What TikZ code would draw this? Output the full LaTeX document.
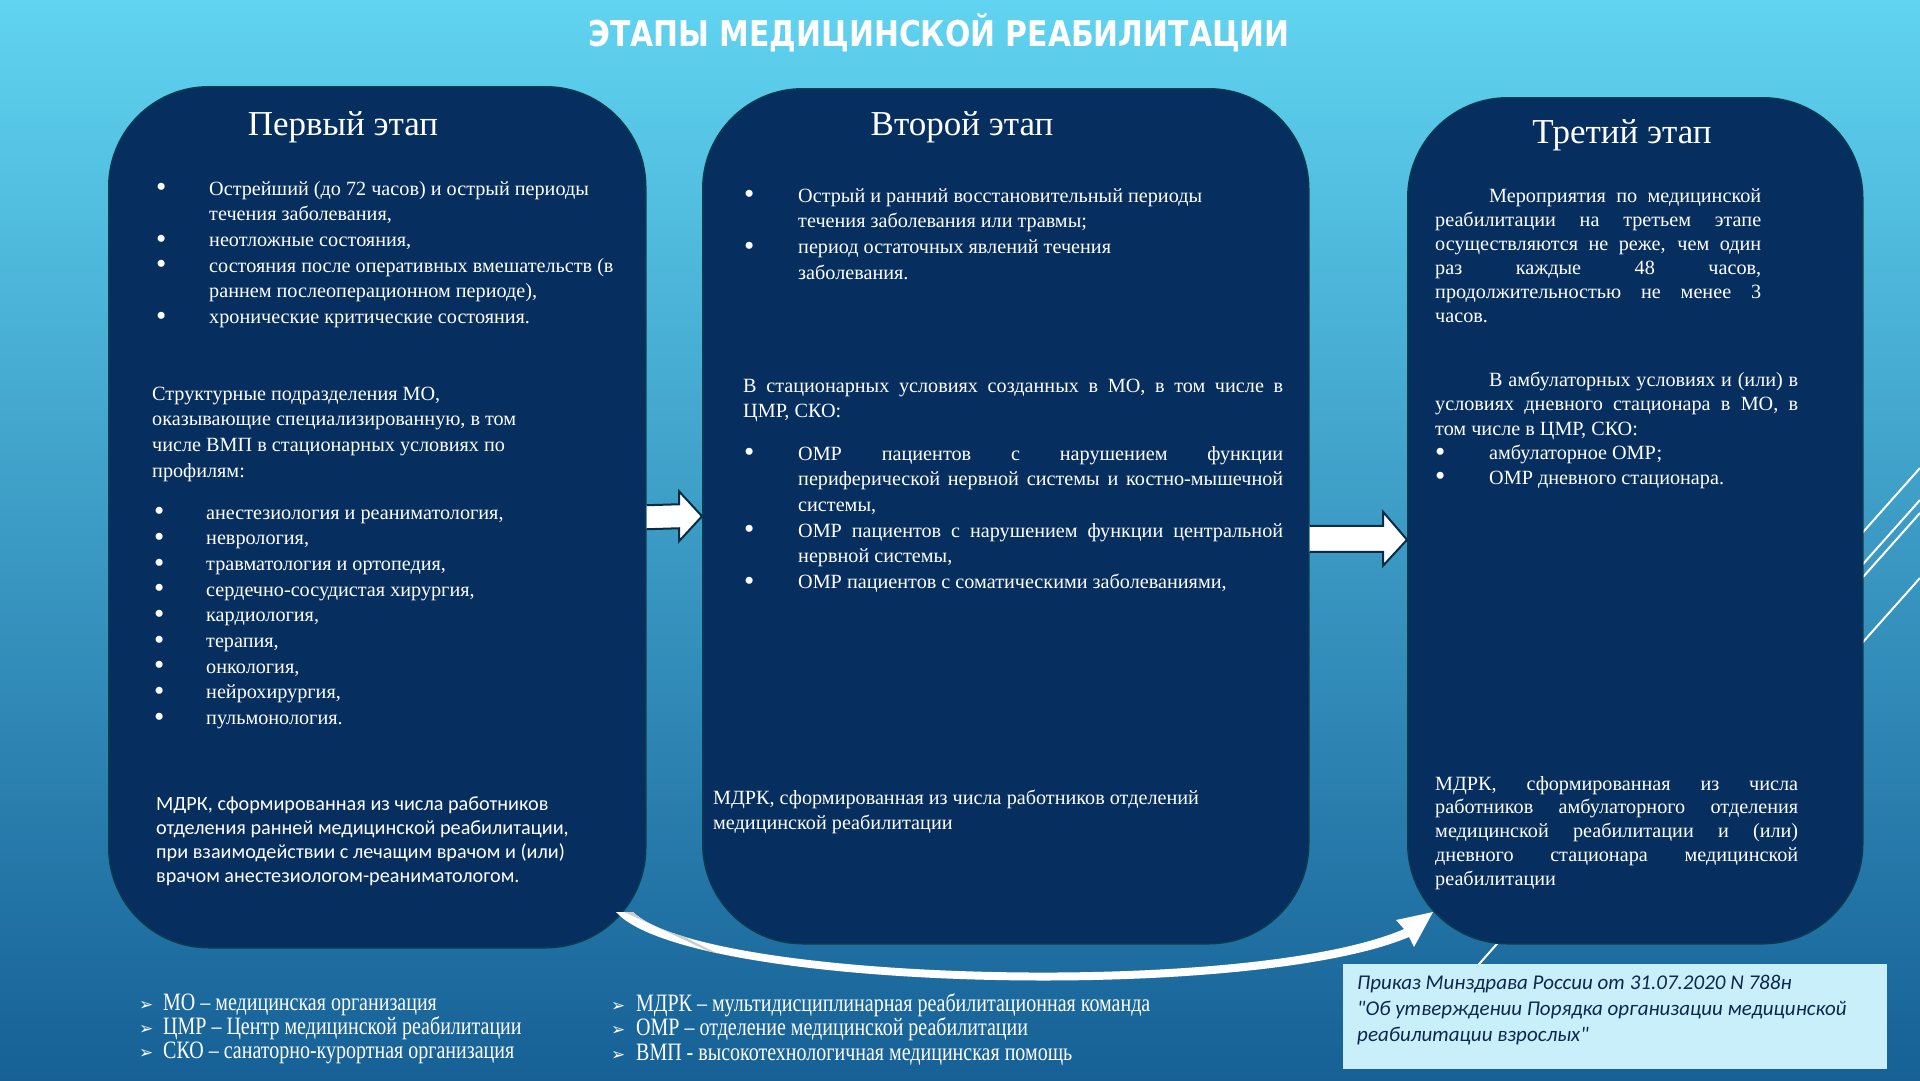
\documentclass[tikz,border=0pt]{standalone}
\usepackage{fontspec}
\usepackage{graphicx}
\setmainfont{Liberation Serif}
\newfontfamily\calib{Carlito}
\newfontfamily\titlef{DejaVu Sans}[FakeStretch=0.84]
\newfontfamily\symf{DejaVu Sans}
\newfontfamily\legf{Liberation Serif}[FakeStretch=0.8]
\usetikzlibrary{calc}

\definecolor{bgtop}{RGB}{96,212,241}
\definecolor{bgmid}{RGB}{52,158,204}
\definecolor{bgbot}{RGB}{22,96,150}
\definecolor{boxfill}{RGB}{6,47,96}
\definecolor{boxline}{RGB}{12,58,80}
\definecolor{arrline}{RGB}{8,44,70}
\definecolor{citefill}{RGB}{200,239,250}
\definecolor{citetext}{RGB}{12,40,78}

\newcommand\bodyfont{\fontsize{20.2}{25.7}\selectfont}
\newcommand\bigbul{\smash{\raisebox{-1.6pt}{\scalebox{1.45}{•}}}}
\newcommand\bul[2]{\par\hangindent=#1\hangafter=1\noindent\makebox[#1][l]{\bigbul}#2\par}
\newcommand\blk[2]{\parbox[t]{#1}{\hyphenpenalty=10000\exhyphenpenalty=10000 #2}}
\newcommand\lgb[1]{\makebox[#1][l]{\smash{\symf\fontsize{17}{17}\selectfont ➢}}}

\begin{document}
\begin{tikzpicture}[x=1pt,y=-1pt,
  stage/.style={draw=boxline, fill=boxfill, line width=1.5pt, rounded corners=100pt, inner sep=0pt, anchor=north west},
  txt/.style={anchor=base west, inner sep=0pt, text=white},
  ttl/.style={anchor=base, inner sep=0pt, text=white, font=\fontsize{35}{40}\selectfont},
  barrow/.style={fill=white, draw=arrline, line width=2pt, line join=miter},
  decoline/.style={draw=white, line width=2pt}]
\useasboundingbox (0,0) rectangle (1920,1080);
\shade[top color=bgtop, middle color=bgmid, bottom color=bgbot] (0,0) rectangle (1920,1080);

% decorative lines
\draw[decoline] (1440,1008) -- (1920,468);
\draw[decoline] (1700,747) -- (1920,500);
\draw[decoline] (1700,760) -- (1920,513);
\draw[decoline] (1700,825) -- (1920,578);

% title
\node[inner sep=0pt, text=white, font=\titlef\bfseries\fontsize{35.5}{40}\selectfont] (title) at (939,33) {ЭТАПЫ МЕДИЦИНСКОЙ РЕАБИЛИТАЦИИ};

% stage boxes
\node[stage, minimum width=537pt, minimum height=861pt] (s1) at (108,86) {};
\node[stage, minimum width=606pt, minimum height=855pt] (s2) at (702,88) {};
\node[stage, minimum width=455pt, minimum height=846pt] (s3) at (1407,97) {};

% block arrows
\filldraw[barrow] ([yshift=12pt]s1.east) -- ([xshift=-23pt,yshift=12pt]s2.west) -- ([xshift=-23pt,yshift=25pt]s2.west) -- (s2.west) -- ([xshift=-23pt,yshift=-25pt]s2.west) -- ([xshift=-23pt,yshift=-12pt]s2.west) -- ([yshift=-12pt]s1.east);
\filldraw[barrow] ([yshift=-9.5pt]s2.east) -- ([xshift=-24pt,yshift=-5pt]s3.west) -- ([xshift=-24pt,yshift=9pt]s3.west) -- ([yshift=-19pt]s3.west) -- ([xshift=-24pt,yshift=-45pt]s3.west) -- ([xshift=-24pt,yshift=-31pt]s3.west) -- ([yshift=-35.5pt]s2.east);

% curved arrow
\coordinate (c1) at (624,912);
\coordinate (c2) at (1433,912);
\fill[white] ($(c1)+(-8,0)$) .. controls (688,992) and (1250,1004) .. (1409,937) -- (1414,947) -- (c2) -- (1396,920) -- (1404,929) .. controls (1250,996) and (705,982) .. ($(c1)+(9,0)$) -- cycle;
\begin{scope}
\clip ($(c1)+(-8,0)$) .. controls (688,992) and (1250,1004) .. (1409,937) -- (1404,929) .. controls (1250,996) and (705,982) .. ($(c1)+(9,0)$) -- cycle;
\fill[gray!40] ($(c1)+(-4,-2)$) -- ($(c1)+(7,-2)$) -- (760,975) -- cycle;
\end{scope}

% titles
\node[ttl] (t1) at (343,135) {Первый этап};
\node[ttl] (t2) at (962,135) {Второй этап};
\node[ttl] (t3) at (1622,143) {Третий этап};

% box 1
\node[txt] (b1a) at (156,195) {\blk{480pt}{\bodyfont
\bul{53pt}{Острейший (до 72 часов) и острый периоды\\ течения заболевания,}
\bul{53pt}{неотложные состояния,}
\bul{53pt}{состояния после оперативных вмешательств (в\\ раннем послеоперационном периоде),}
\bul{53pt}{хронические критические состояния.}}};
\node[txt] (b1b) at (152,400) {\blk{460pt}{\bodyfont
Структурные подразделения МО,\\ оказывающие специализированную, в том\\ числе ВМП в стационарных условиях по\\ профилям:}};
\node[txt] (b1c) at (154,519) {\blk{460pt}{\bodyfont
\bul{52pt}{анестезиология и реаниматология,}
\bul{52pt}{неврология,}
\bul{52pt}{травматология и ортопедия,}
\bul{52pt}{сердечно-сосудистая хирургия,}
\bul{52pt}{кардиология,}
\bul{52pt}{терапия,}
\bul{52pt}{онкология,}
\bul{52pt}{нейрохирургия,}
\bul{52pt}{пульмонология.}}};
\node[txt] (b1d) at (156,810) {\blk{470pt}{\calib\fontsize{20.2}{24.3}\selectfont
МДРК, сформированная из числа работников\\ отделения ранней медицинской реабилитации,\\ при взаимодействии с лечащим врачом и (или)\\ врачом анестезиологом-реаниматологом.}};

% box 2
\node[txt] (b2a) at (744,202) {\blk{520pt}{\bodyfont
\bul{54pt}{Острый и ранний восстановительный периоды\\ течения заболевания или травмы;}
\bul{54pt}{период остаточных явлений течения\\ заболевания.}}};
\node[txt] (b2b) at (743,392) {\blk{540pt}{\bodyfont
В стационарных условиях созданных в МО, в том числе в\linebreak ЦМР, СКО:}};
\node[txt] (b2c) at (744,460) {\blk{539pt}{\bodyfont
\bul{54pt}{ОМР пациентов с нарушением функции\linebreak периферической нервной системы и костно-мышечной\linebreak системы,}
\bul{54pt}{ОМР пациентов с нарушением функции центральной\linebreak нервной системы,}
\bul{54pt}{ОМР пациентов с соматическими заболеваниями,}}};
\node[txt] (b2d) at (713,804) {\blk{560pt}{\fontsize{20.2}{25}\selectfont
МДРК, сформированная из числа работников отделений\\ медицинской реабилитации}};

% box 3
\node[txt] (b3a) at (1435,202) {\blk{326pt}{\fontsize{20.2}{24}\selectfont\parindent=54pt
Мероприятия по медицинской\linebreak реабилитации на третьем этапе\linebreak осуществляются не реже, чем один\linebreak раз каждые 48 часов,\linebreak продолжительностью не менее 3\linebreak часов.}};
\node[txt] (b3b) at (1435,386) {\blk{363pt}{\fontsize{20.2}{24.5}\selectfont\parindent=54pt
В амбулаторных условиях и (или) в\linebreak условиях дневного стационара в МО, в\linebreak том числе в ЦМР, СКО:\par
\bul{54pt}{амбулаторное ОМР;}
\bul{54pt}{ОМР дневного стационара.}}};
\node[txt] (b3c) at (1435,790) {\blk{363pt}{\fontsize{20.2}{23.8}\selectfont
МДРК, сформированная из числа\linebreak работников амбулаторного отделения\linebreak медицинской реабилитации и (или)\linebreak дневного стационара медицинской\linebreak реабилитации}};

% legend
\node[txt] (lg1) at (139,1010) {\blk{420pt}{\legf\fontsize{25}{24}\selectfont
\lgb{24pt}МО – медицинская организация\\
\lgb{24pt}ЦМР – Центр медицинской реабилитации\\
\lgb{24pt}СКО – санаторно-курортная организация}};
\node[txt] (lg2) at (611,1011) {\blk{640pt}{\legf\fontsize{25}{24.5}\selectfont
\lgb{25pt}МДРК – мультидисциплинарная реабилитационная команда\\
\lgb{25pt}ОМР – отделение медицинской реабилитации\\
\lgb{25pt}ВМП - высокотехнологичная медицинская помощь}};

% citation
\node[anchor=north west, fill=citefill, inner sep=0pt, minimum width=544pt, minimum height=105pt] (cite) at (1343,964) {};
\node[txt, text=citetext] (citetxt) at (1357,989) {\blk{525pt}{\calib\itshape\fontsize{21}{26}\selectfont
Приказ Минздрава России от 31.07.2020 N 788н\\ "Об утверждении Порядка организации медицинской\\ реабилитации взрослых"}};
\end{tikzpicture}
\end{document}
